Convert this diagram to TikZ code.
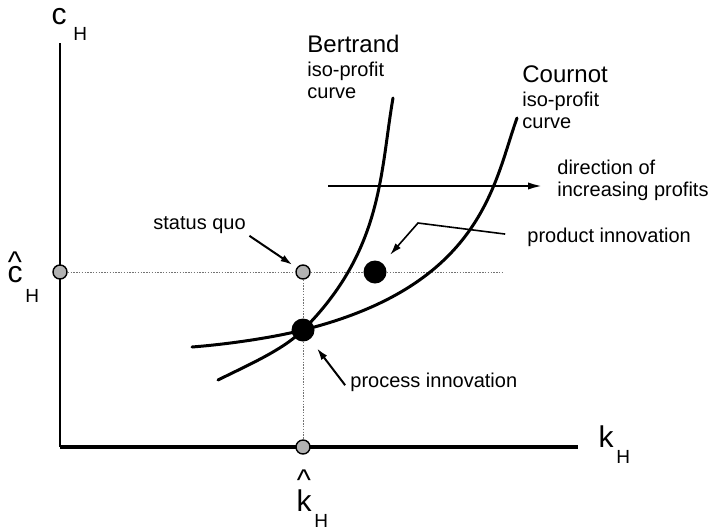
\documentclass[tikz,border=0pt]{standalone}
\usepackage{fontspec}
\setmainfont{Liberation Sans}
\usetikzlibrary{arrows.meta, positioning}

\begin{document}
\begin{tikzpicture}[
  x=0.5pt, y=-0.5pt,
  every node/.style={inner sep=0pt},
  axis/.style={draw=black, line width=1pt},
  guide/.style={draw=black!55, line width=0.5pt, dash pattern=on 0.7pt off 0.7pt},
  isoprofit/.style={draw=black, line width=1.5pt, line cap=round},
  ptr/.style={-{Latex[length=6pt, width=3.6pt]}, line width=1pt},
  refdot/.style={circle, draw=black, line width=0.7pt, fill=black!30, minimum size=7pt},
  optdot/.style={circle, fill=black, minimum size=11.5pt},
  axlbl/.style={font=\fontsize{15}{15}\selectfont},
  hatlbl/.style={font=\fontsize{15}{15}\selectfont, align=center, anchor=south},
  sublbl/.style={font=\fontsize{9.5}{10}\selectfont},
  note/.style={font=\fontsize{10}{11}\selectfont, align=left},
]
  \useasboundingbox (0,0) rectangle (715,530);

  % axes
  \coordinate (O) at (60,447);
  \coordinate (ytop) at (60,43);
  \coordinate (xend) at (578,447);
  \draw[axis] (ytop) -- (O);
  \draw[axis, line width=1.6pt] (O) -- (xend);

  % reference points and the two outcomes
  \node[refdot] (cdot) at (60,272) {};
  \node[refdot] (sq) at (303,272) {};
  \node[refdot] (kdot) at (303,447) {};
  \node[optdot] (proc) at (303,330) {};
  \node[optdot] (prod) at (375,272) {};
  \coordinate (hend) at (503,272);

  \draw[guide] (cdot) -- (sq);
  \draw[guide] (sq) -- (prod);
  \draw[guide] (prod) -- (hend);
  \draw[guide] (sq) -- (proc);
  \draw[guide] (proc) -- (kdot);

  % iso-profit curves, both through the process point
  \draw[isoprofit] (218,380) .. controls (248,365) and (283,350) .. (proc.center)
    .. controls (383,250) and (380,173) .. (393,98);
  \draw[isoprofit] (192,347) .. controls (230,344) and (273,337.5) .. (proc.center)
    .. controls (483,285) and (493.6,183) .. (517,118);

  % axis labels
  \node[axlbl, anchor=base] (clbl) at (59,25) {c};
  \node[sublbl, anchor=base west] (clblsub) at (73,40) {H};
  \node[hatlbl] (chat) at (15,283) {\textasciicircum\\[-10pt]c};
  \node[sublbl, anchor=base west] (chatsub) at (25,302) {H};
  \node[axlbl, anchor=base] (klbl) at (606,447) {k};
  \node[sublbl, anchor=base west] (klblsub) at (616,463) {H};
  \node[hatlbl] (khat) at (304,512) {\textasciicircum\\[-4.5pt]k};
  \node[sublbl, anchor=base west] (khatsub) at (314,527) {H};

  % curve labels
  \node[note, anchor=north west] (bertlbl) at (307,35)
    {{\fontsize{12}{12}\selectfont Bertrand}\\[1pt]iso-profit\\curve};
  \node[note, anchor=north west] (courlbl) at (522,65)
    {{\fontsize{12}{12}\selectfont Cournot}\\[1pt]iso-profit\\curve};

  % profit direction
  \coordinate (dirstart) at (328,186);
  \coordinate (dirend) at (543,186);
  \draw[-{Latex[length=7.5pt, width=3.6pt]}, line width=1.2pt] (dirstart) -- (dirend);
  \node[note, anchor=north west] (dirlbl) at (557,160) {direction of\\increasing profits};

  % pointers
  \node[note, anchor=base west] (sqlbl) at (153,229) {status quo};
  \draw[ptr, shorten <=2pt, shorten >=2.5pt] (sqlbl.south east) -- (sq);

  \node[note, anchor=base west] (proclbl) at (350,387) {process innovation};
  \draw[ptr, shorten <=4pt, shorten >=5.5pt] (proclbl.south west) -- (proc);

  \node[note, anchor=base west] (prodlbl) at (527,242) {product innovation};
  \coordinate (bend) at (418,223);
  \draw[ptr, line width=0.8pt, shorten <=11pt, shorten >=5.5pt] (prodlbl.west) -- (bend) -- (prod);
\end{tikzpicture}
\end{document}
